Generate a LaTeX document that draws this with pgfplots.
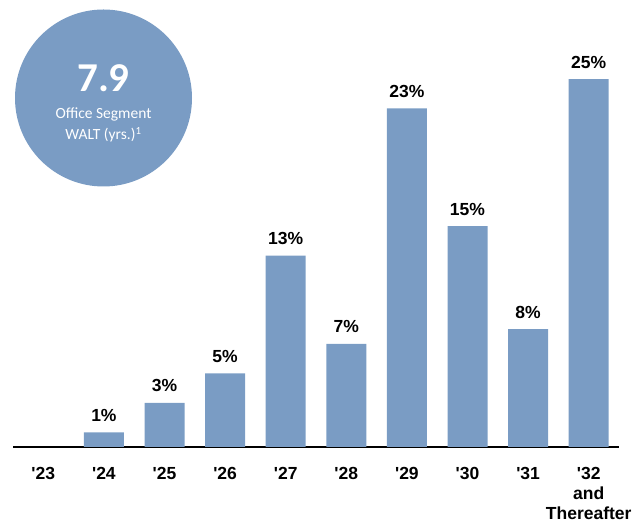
\documentclass[border=0pt]{standalone}
\usepackage{pgfplots}
\pgfplotsset{compat=1.18}
\usepackage{fontspec}
\setmainfont{Liberation Sans}
\newfontfamily\calibri{Carlito}
\definecolor{barblue}{HTML}{7A9CC4}
\newcommand{\q}{\textquotesingle}
\begin{document}
\begin{tikzpicture}
\fill[barblue] (103.5pt,426pt) circle[radius=88.5pt];
\node[font=\calibri\bfseries\fontsize{41}{41}\selectfont, text=white, anchor=base, inner sep=0pt] at (103.5pt,432.5pt) {7.9};
\node[font=\calibri\fontsize{15.5}{18}\selectfont, text=white, anchor=base, inner sep=0pt] at (103.5pt,405pt) {Office Segment};
\node[font=\calibri\fontsize{15.5}{18}\selectfont, text=white, anchor=base, inner sep=0pt] at (103.5pt,384pt) {WALT (yrs.)\textsuperscript{1}};
\begin{axis}[
  at={(13pt,77pt)}, anchor=south west,
  scale only axis, width=606pt, height=397.4pt,
  xmin=-0.5, xmax=9.5, ymin=0, ymax=27,
  axis x line=bottom, axis line style={-, black, line width=1.2pt},
  hide y axis,
  /pgf/number format/assume math mode=true,
  xtick={0,1,2,3,4,5,6,7,8,9},
  xticklabels={\q23,\q24,\q25,\q26,\q27,\q28,\q29,\q30,\q31,{\q32\\and\\Thereafter}},
  xtick style={draw=none},
  xticklabel style={anchor=north, inner sep=0pt, yshift=-16pt, align=center,
    font=\bfseries\fontsize{17.5}{20}\selectfont},
  ybar, bar width=40pt,
  nodes near coords={\pgfmathprintnumber{\pgfplotspointmeta}\%},
  every node near coord/.style={anchor=base, inner sep=0pt, yshift=11pt,
    font=\bfseries\fontsize{17.5}{20}\selectfont, text=black},
  clip=false,
]
\addplot[fill=barblue, draw=none] coordinates {(1,1) (2,3) (3,5) (4,13) (5,7) (6,23) (7,15) (8,8) (9,25)};
\end{axis}
\path (0pt,0pt) rectangle (640pt,524pt);
\end{tikzpicture}
\end{document}
